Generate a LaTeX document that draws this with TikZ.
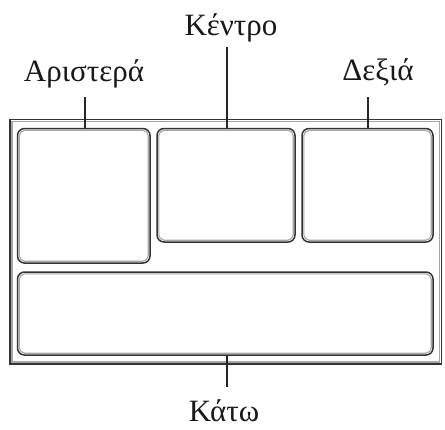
\documentclass[tikz,border=0pt]{standalone}
\usepackage{fontspec}
\setmainfont{Liberation Serif}
\begin{document}
\begin{tikzpicture}[x=1pt,y=-1pt,
  darkline/.style={draw=black!80, line width=1.5pt},
  grayline/.style={draw=black!35, line width=1.1pt},
  box/.style={darkline, rounded corners=7pt, inner sep=0pt, outer sep=0pt},
  frame/.style={darkline, inner sep=0pt, outer sep=0pt},
  conn/.style={draw=black!85, line width=1.4pt},
  lbl/.style={font=\fontsize{31}{34}\selectfont, text=black!90, inner sep=0pt, anchor=base}]
\useasboundingbox[fill=white] (0,0) rectangle (445,429);
% outer frame
\node[frame, minimum width=431.5pt, minimum height=244.5pt] (F) at (225.75,241.75) {};
\draw[grayline] ([xshift=2pt,yshift=-2pt]F.north west) rectangle ([xshift=-2pt,yshift=2pt]F.south east);
% inner boxes
\node[box, minimum width=132.5pt, minimum height=134.5pt] (L) at (83.75,195.75) {};
\node[box, minimum width=138pt, minimum height=113.5pt] (C) at (226,185.25) {};
\node[box, minimum width=131pt, minimum height=113.5pt] (R) at (367.5,185.25) {};
\node[box, minimum width=415.5pt, minimum height=83pt] (B) at (225.25,313.5) {};
\foreach \n in {L,C,R,B}{
  \draw[grayline, rounded corners=5.5pt] ([xshift=1.8pt,yshift=-1.8pt]\n.north west) rectangle ([xshift=-1.8pt,yshift=1.8pt]\n.south east);
}
% labels
\node[lbl] (lC) at (231,35) {Κέντρο};
\node[lbl] (lL) at (84,81) {Αριστερά};
\node[lbl] (lR) at (378,80) {Δεξιά};
\node[lbl] (lB) at (224,421) {Κάτω};
% connector ends
\coordinate (tC) at (227,47);
\coordinate (tL) at (85,97);
\coordinate (tR) at (368,97);
\coordinate (tB) at (227,387);
\draw[conn] (tC) -- (tC |- C.north);
\draw[conn] (tL) -- (tL |- L.north);
\draw[conn] (tR) -- (tR |- R.north);
\draw[conn] (tB) -- (tB |- B.south);
\end{tikzpicture}
\end{document}
